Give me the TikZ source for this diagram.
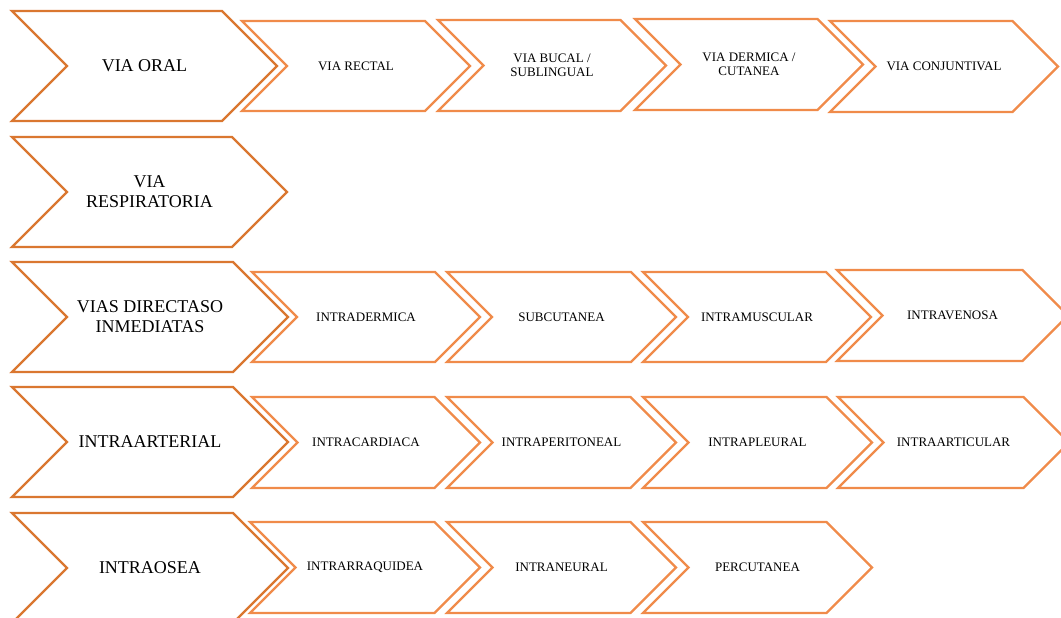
\documentclass[tikz,border=0pt]{standalone}
\usepackage{fontspec}
\setmainfont{Liberation Serif}
\definecolor{bigor}{RGB}{218,119,48}
\definecolor{smallor}{RGB}{240,139,74}
\tikzset{
  bigchev/.style={draw=bigor, line width=2.4pt, fill=white},
  smallchev/.style={draw=smallor, line width=2.2pt, fill=white},
  bigtext/.style={align=center, font=\fontsize{18}{20}\selectfont, inner sep=0pt},
  smalltext/.style={align=center, font=\fontsize{13}{13.5}\selectfont, inner sep=0pt},
}
% #1 name, #2 left x, #3 top y, #4 bottom y, #5 width, #6 shape style, #7 text style, #8 text
\newcommand\mychev[8]{%
  \pgfmathsetmacro\hh{(#4-#3)/2}%
  \draw[#6] (#2,#3) -- ({#2+#5-\hh},#3) -- ({#2+#5},{#3+\hh}) -- ({#2+#5-\hh},#4) -- (#2,#4) -- ({#2+\hh},{#3+\hh}) -- cycle;
  \node[#7] (#1) at ({#2+#5/2},{#3+\hh}) {#8};
}
\begin{document}
\begin{tikzpicture}[x=1pt,y=-1pt]
\useasboundingbox[fill=white] (0,0) rectangle (1061,618);
% Row 1
\mychev{oral}{12}{11}{121}{265}{bigchev}{bigtext}{VIA ORAL}
\mychev{rectal}{242}{21}{111}{228}{smallchev}{smalltext}{VIA RECTAL}
\mychev{bucal}{438}{20}{111}{228}{smallchev}{smalltext}{VIA BUCAL /\\SUBLINGUAL}
\mychev{dermica}{635}{19}{110}{228}{smallchev}{smalltext}{VIA DERMICA /\\CUTANEA}
\mychev{conj}{830}{21}{112}{228}{smallchev}{smalltext}{VIA CONJUNTIVAL}
% Row 2
\mychev{resp}{12}{137}{247}{275}{bigchev}{bigtext}{VIA\\RESPIRATORIA}
% Row 3
\mychev{directas}{12}{262}{372}{276}{bigchev}{bigtext}{VIAS DIRECTASO\\INMEDIATAS}
\mychev{intrader}{252}{272}{362}{228}{smallchev}{smalltext}{INTRADERMICA}
\mychev{subcut}{447}{272}{362}{229}{smallchev}{smalltext}{SUBCUTANEA}
\mychev{intramus}{643}{272}{362}{228}{smallchev}{smalltext}{INTRAMUSCULAR}
\mychev{intraven}{837}{270}{361}{231}{smallchev}{smalltext}{INTRAVENOSA}
% Row 4
\mychev{intraart}{12}{387}{497}{276}{bigchev}{bigtext}{INTRAARTERIAL}
\mychev{intracar}{252}{397}{488}{228}{smallchev}{smalltext}{INTRACARDIACA}
\mychev{intraper}{447}{397}{488}{229}{smallchev}{smalltext}{INTRAPERITONEAL}
\mychev{intrapleu}{643}{397}{488}{229}{smallchev}{smalltext}{INTRAPLEURAL}
\mychev{intraarti}{838}{397}{488}{231}{smallchev}{smalltext}{INTRAARTICULAR}
% Row 5
\mychev{intraosea}{12}{513}{623}{276}{bigchev}{bigtext}{INTRAOSEA}
\mychev{intrarraq}{250}{522}{613}{230}{smallchev}{smalltext}{INTRARRAQUIDEA}
\mychev{intraneu}{447}{522}{613}{229}{smallchev}{smalltext}{INTRANEURAL}
\mychev{percut}{643}{522}{613}{229}{smallchev}{smalltext}{PERCUTANEA}
\end{tikzpicture}
\end{document}
